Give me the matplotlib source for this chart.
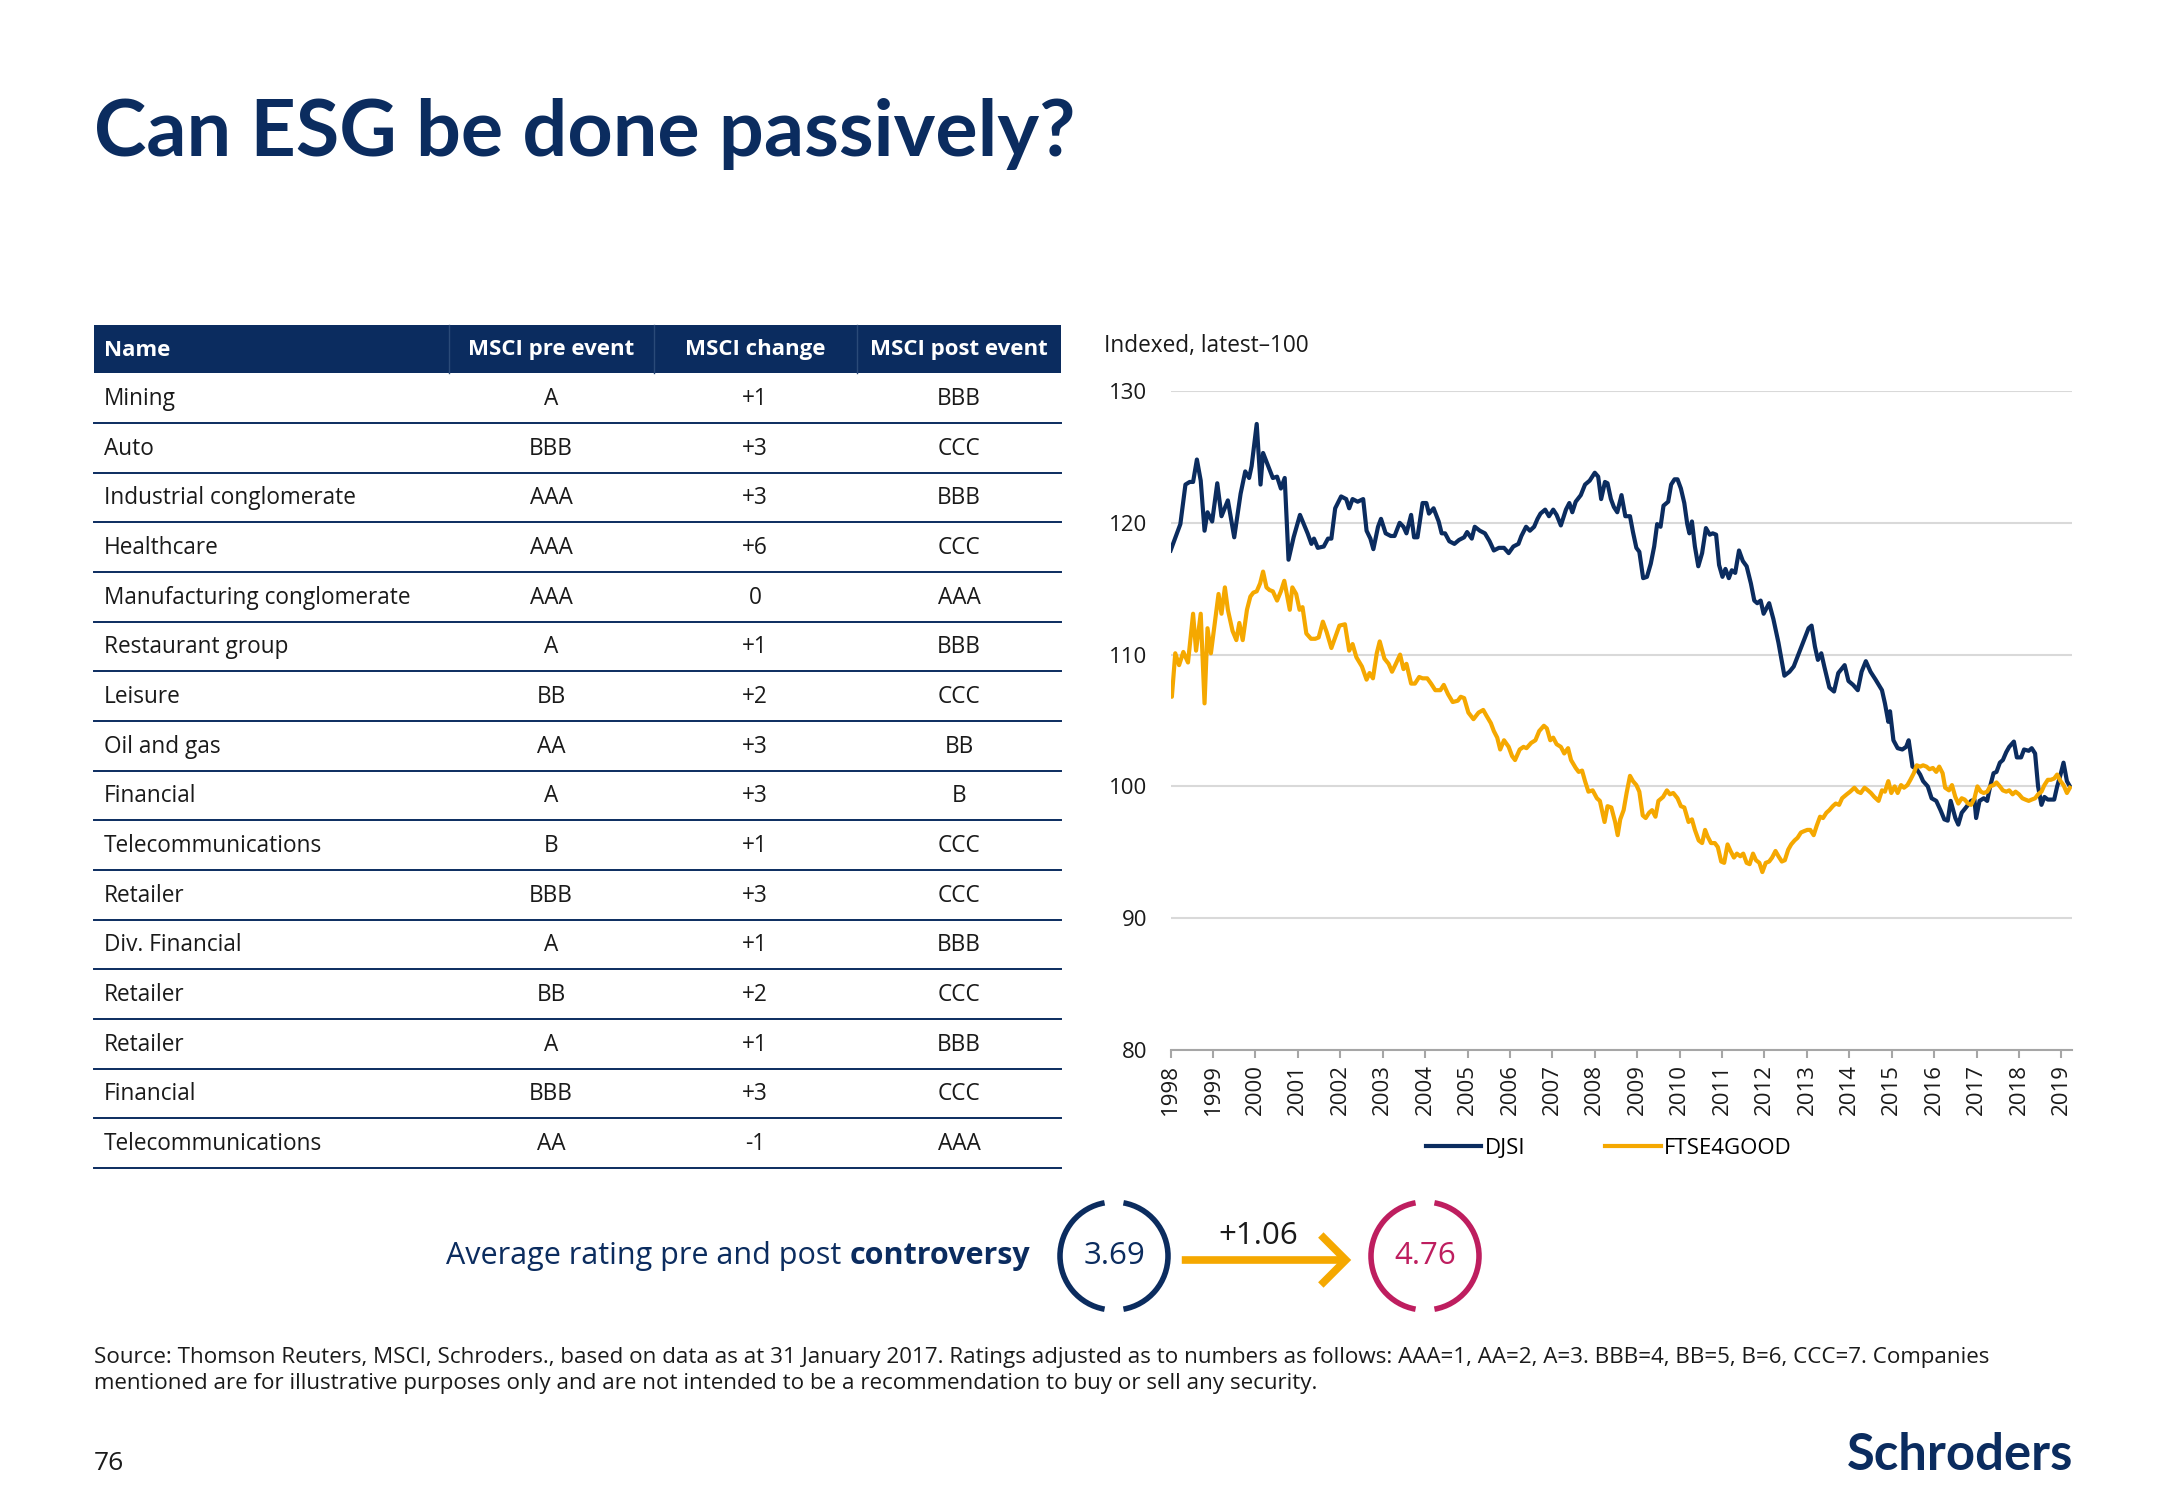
import matplotlib
matplotlib.use('Agg')
import matplotlib.pyplot as plt
from matplotlib.patches import Rectangle, Arc, FancyArrowPatch
from matplotlib.lines import Line2D

# Table data
names = ['Mining', 'Auto', 'Industrial conglomerate', 'Healthcare', 'Manufacturing conglomerate',
         'Restaurant group', 'Leisure', 'Oil and gas', 'Financial', 'Telecommunications',
         'Retailer', 'Div. Financial', 'Retailer', 'Retailer', 'Financial', 'Telecommunications']
pre_event = ['A', 'BBB', 'AAA', 'AAA', 'AAA', 'A', 'BB', 'AA', 'A', 'B', 'BBB', 'A', 'BB', 'A', 'BBB', 'AA']
change = ['+1', '+3', '+3', '+6', '0', '+1', '+2', '+3', '+3', '+1', '+3', '+1', '+2', '+1', '+3', '-1']
post_event = ['BBB', 'CCC', 'BBB', 'CCC', 'AAA', 'BBB', 'CCC', 'BB', 'B', 'CCC', 'CCC', 'BBB', 'CCC', 'BBB', 'CCC', 'AAA']
header = ['Name', 'MSCI pre event', 'MSCI change', 'MSCI post event']

avg_pre = '3.69'
avg_post = '4.76'
avg_diff = '+1.06'

# Index series (decimal year, index value)
djsi_t = [1998.00, 1998.15, 1998.23, 1998.35, 1998.45, 1998.53, 1998.62, 1998.71, 1998.80, 1998.87,
          1998.98, 1999.10, 1999.20, 1999.35, 1999.50, 1999.65, 1999.76, 1999.85, 1999.91, 2000.03,
          2000.12, 2000.18, 2000.30, 2000.41, 2000.51, 2000.60, 2000.69, 2000.78, 2000.90, 2001.05,
          2001.23, 2001.32, 2001.38, 2001.47, 2001.61, 2001.71, 2001.79, 2001.88, 2002.02, 2002.14,
          2002.21, 2002.29, 2002.41, 2002.54, 2002.62, 2002.71, 2002.78, 2002.89, 2002.96, 2003.07,
          2003.19, 2003.28, 2003.40, 2003.49, 2003.56, 2003.67, 2003.74, 2003.82, 2003.94, 2004.03,
          2004.09, 2004.20, 2004.32, 2004.39, 2004.47, 2004.57, 2004.69, 2004.80, 2004.92, 2004.99,
          2005.10, 2005.17, 2005.29, 2005.41, 2005.52, 2005.62, 2005.74, 2005.86, 2005.97, 2006.08,
          2006.20, 2006.27, 2006.38, 2006.47, 2006.57, 2006.65, 2006.72, 2006.83, 2006.92, 2007.02,
          2007.10, 2007.20, 2007.32, 2007.40, 2007.47, 2007.55, 2007.67, 2007.77, 2007.88, 2008.00,
          2008.08, 2008.15, 2008.24, 2008.30, 2008.38, 2008.45, 2008.53, 2008.63, 2008.72, 2008.83,
          2008.90, 2008.98, 2009.05, 2009.14, 2009.23, 2009.32, 2009.40, 2009.47, 2009.55, 2009.62,
          2009.73, 2009.80, 2009.88, 2009.95, 2010.03, 2010.11, 2010.18, 2010.23, 2010.29, 2010.36,
          2010.44, 2010.53, 2010.62, 2010.71, 2010.78, 2010.86, 2010.93, 2011.01, 2011.08, 2011.16,
          2011.23, 2011.31, 2011.40, 2011.49, 2011.58, 2011.68, 2011.76, 2011.83, 2011.91, 2011.98,
          2012.11, 2012.21, 2012.33, 2012.47, 2012.59, 2012.69, 2012.81, 2012.93, 2013.04, 2013.11,
          2013.19, 2013.26, 2013.34, 2013.41, 2013.53, 2013.64, 2013.74, 2013.89, 2013.98, 2014.09,
          2014.20, 2014.29, 2014.39, 2014.50, 2014.62, 2014.77, 2014.84, 2014.92, 2014.96, 2015.04,
          2015.14, 2015.25, 2015.34, 2015.40, 2015.49, 2015.59, 2015.67, 2015.74, 2015.85, 2015.94,
          2016.05, 2016.15, 2016.24, 2016.32, 2016.39, 2016.50, 2016.57, 2016.65, 2016.75, 2016.87,
          2016.95, 2016.99, 2017.07, 2017.17, 2017.25, 2017.32, 2017.40, 2017.47, 2017.55, 2017.62,
          2017.70, 2017.77, 2017.88, 2017.95, 2018.05, 2018.12, 2018.23, 2018.30, 2018.38, 2018.45,
          2018.53, 2018.60, 2018.68, 2018.75, 2018.83, 2018.90, 2018.98, 2019.05, 2019.13, 2019.20]
djsi_v = [117.9, 119.2, 119.9, 122.9, 123.1, 123.1, 124.8, 123.2, 119.4, 120.8,
          120.1, 123.0, 120.5, 121.7, 118.9, 122.2, 123.9, 123.4, 124.3, 127.5,
          122.9, 125.3, 124.3, 123.4, 123.5, 122.6, 123.4, 117.2, 118.9, 120.6,
          119.2, 118.4, 118.8, 118.1, 118.2, 118.8, 118.8, 121.1, 122.0, 121.8,
          121.1, 121.8, 121.6, 121.8, 119.4, 118.8, 118.0, 119.7, 120.3, 119.2,
          119.0, 119.0, 120.0, 119.7, 119.2, 120.6, 118.9, 118.9, 121.5, 121.5,
          120.7, 121.1, 120.1, 119.2, 119.2, 118.6, 118.4, 118.7, 118.9, 119.3,
          118.8, 119.7, 119.4, 119.2, 118.6, 117.9, 118.1, 118.1, 117.7, 118.2,
          118.4, 119.0, 119.7, 119.4, 119.7, 120.3, 120.7, 121.0, 120.5, 121.0,
          120.6, 119.8, 121.0, 121.5, 120.8, 121.6, 122.1, 122.9, 123.2, 123.8,
          123.5, 121.8, 123.1, 123.0, 121.8, 121.2, 120.8, 122.1, 120.5, 120.5,
          119.3, 118.1, 117.8, 115.8, 115.9, 116.9, 118.2, 119.9, 119.7, 121.3,
          121.6, 122.9, 123.3, 123.3, 122.6, 121.5, 119.9, 119.2, 120.1, 118.2,
          116.7, 117.7, 119.6, 119.1, 119.2, 119.1, 116.8, 115.9, 116.5, 115.8,
          116.4, 116.2, 117.9, 117.1, 116.7, 115.4, 114.1, 113.9, 114.1, 113.1,
          113.9, 112.7, 110.9, 108.4, 108.7, 109.1, 110.1, 111.1, 112.0, 112.2,
          110.6, 109.6, 110.1, 109.1, 107.5, 107.2, 108.6, 109.2, 108.0, 107.7,
          107.3, 108.7, 109.5, 108.7, 108.1, 107.3, 106.3, 104.9, 105.7, 103.5,
          102.9, 102.8, 103.0, 103.5, 101.5, 101.3, 100.9, 100.4, 100.0, 99.1,
          98.9, 98.2, 97.5, 97.4, 98.9, 97.6, 97.1, 98.0, 98.4, 98.9,
          99.0, 97.6, 98.9, 99.1, 98.9, 100.0, 101.0, 101.1, 101.8, 102.0,
          102.6, 103.0, 103.4, 102.2, 102.2, 102.8, 102.7, 102.9, 102.5, 100.0,
          98.6, 99.2, 99.0, 99.0, 99.0, 100.0, 100.9, 101.8, 100.4, 100.0]

ftse_t = [1998.00, 1998.03, 1998.11, 1998.20, 1998.30, 1998.41, 1998.53, 1998.60, 1998.71, 1998.80,
          1998.87, 1998.95, 1999.05, 1999.13, 1999.20, 1999.28, 1999.35, 1999.46, 1999.55, 1999.62,
          1999.70, 1999.80, 1999.88, 1999.95, 2000.03, 2000.11, 2000.18, 2000.26, 2000.33, 2000.41,
          2000.51, 2000.60, 2000.68, 2000.75, 2000.81, 2000.87, 2000.96, 2001.04, 2001.11, 2001.20,
          2001.31, 2001.41, 2001.49, 2001.59, 2001.68, 2001.79, 2001.88, 2001.98, 2002.11, 2002.21,
          2002.29, 2002.38, 2002.51, 2002.62, 2002.69, 2002.77, 2002.86, 2002.93, 2003.04, 2003.14,
          2003.22, 2003.31, 2003.41, 2003.49, 2003.56, 2003.67, 2003.76, 2003.86, 2003.94, 2004.05,
          2004.14, 2004.24, 2004.36, 2004.44, 2004.54, 2004.65, 2004.77, 2004.84, 2004.92, 2005.02,
          2005.14, 2005.26, 2005.37, 2005.44, 2005.55, 2005.62, 2005.70, 2005.77, 2005.86, 2005.97,
          2006.05, 2006.12, 2006.23, 2006.32, 2006.39, 2006.50, 2006.60, 2006.69, 2006.80, 2006.87,
          2006.95, 2007.02, 2007.10, 2007.20, 2007.28, 2007.37, 2007.44, 2007.55, 2007.62, 2007.70,
          2007.77, 2007.85, 2007.95, 2008.05, 2008.12, 2008.23, 2008.30, 2008.39, 2008.48, 2008.54,
          2008.60, 2008.68, 2008.75, 2008.83, 2008.90, 2008.98, 2009.05, 2009.13, 2009.20, 2009.28,
          2009.35, 2009.43, 2009.50, 2009.61, 2009.70, 2009.77, 2009.85, 2009.95, 2010.03, 2010.11,
          2010.21, 2010.29, 2010.36, 2010.45, 2010.53, 2010.60, 2010.66, 2010.74, 2010.83, 2010.90,
          2010.98, 2011.05, 2011.13, 2011.20, 2011.28, 2011.35, 2011.43, 2011.50, 2011.58, 2011.65,
          2011.73, 2011.80, 2011.88, 2011.95, 2012.03, 2012.11, 2012.18, 2012.26, 2012.33, 2012.41,
          2012.48, 2012.56, 2012.63, 2012.71, 2012.78, 2012.86, 2012.93, 2013.01, 2013.08, 2013.16,
          2013.23, 2013.31, 2013.38, 2013.46, 2013.53, 2013.61, 2013.68, 2013.76, 2013.83, 2013.94,
          2014.02, 2014.12, 2014.20, 2014.27, 2014.36, 2014.44, 2014.51, 2014.59, 2014.69, 2014.77,
          2014.84, 2014.92, 2014.99, 2015.07, 2015.14, 2015.22, 2015.29, 2015.37, 2015.44, 2015.52,
          2015.59, 2015.67, 2015.74, 2015.82, 2015.89, 2015.97, 2016.05, 2016.12, 2016.20, 2016.26,
          2016.35, 2016.42, 2016.50, 2016.57, 2016.65, 2016.72, 2016.80, 2016.87, 2016.95, 2017.02,
          2017.10, 2017.17, 2017.25, 2017.32, 2017.40, 2017.47, 2017.55, 2017.62, 2017.70, 2017.77,
          2017.85, 2017.92, 2018.00, 2018.08, 2018.15, 2018.23, 2018.30, 2018.38, 2018.45, 2018.53,
          2018.60, 2018.68, 2018.75, 2018.83, 2018.90, 2018.98, 2019.05, 2019.13, 2019.20]
ftse_v = [107.8, 106.8, 110.1, 109.2, 110.2, 109.4, 113.1, 110.3, 113.1, 106.3,
          112.0, 110.1, 112.6, 114.6, 113.1, 115.1, 113.4, 111.8, 111.1, 112.4,
          111.1, 113.4, 114.4, 114.7, 114.8, 115.4, 116.3, 115.1, 114.9, 114.8,
          114.1, 114.8, 115.6, 114.4, 113.4, 115.1, 114.6, 113.4, 113.6, 111.6,
          111.2, 111.2, 111.3, 112.5, 111.7, 110.5, 111.3, 112.2, 112.3, 110.3,
          110.8, 109.8, 109.1, 108.1, 108.6, 108.2, 110.1, 111.0, 109.7, 109.3,
          108.7, 109.3, 110.0, 108.9, 109.3, 107.8, 107.8, 108.3, 108.2, 108.2,
          107.8, 107.3, 107.3, 107.7, 107.0, 106.4, 106.5, 106.8, 106.7, 105.6,
          105.1, 105.6, 105.8, 105.4, 104.8, 104.2, 103.7, 102.8, 103.5, 103.0,
          102.3, 102.0, 102.8, 103.0, 102.9, 103.3, 103.5, 104.2, 104.6, 104.4,
          103.5, 103.7, 103.2, 103.0, 102.5, 102.9, 102.0, 101.4, 101.1, 101.2,
          100.4, 99.6, 99.7, 99.1, 98.9, 97.3, 98.5, 98.4, 97.3, 96.3,
          97.5, 98.2, 99.5, 100.8, 100.4, 100.1, 99.6, 97.8, 97.6, 98.0,
          98.2, 97.7, 98.9, 99.2, 99.7, 99.4, 99.5, 99.1, 98.5, 98.4,
          97.3, 97.5, 96.7, 95.9, 95.7, 96.7, 96.2, 95.7, 95.7, 95.4,
          94.3, 94.2, 95.6, 95.1, 94.6, 94.9, 94.7, 94.9, 94.2, 94.1,
          94.9, 94.4, 94.2, 93.5, 94.2, 94.3, 94.6, 95.1, 94.7, 94.3,
          94.4, 95.2, 95.6, 95.9, 96.1, 96.5, 96.6, 96.7, 96.7, 96.3,
          97.0, 97.7, 97.6, 98.0, 98.2, 98.5, 98.7, 98.6, 99.1, 99.4,
          99.6, 99.9, 99.6, 99.5, 99.9, 99.7, 99.5, 99.2, 98.9, 99.7,
          99.6, 100.4, 99.5, 100.0, 99.5, 100.1, 99.9, 100.1, 100.5, 101.0,
          101.6, 101.5, 101.6, 101.5, 101.3, 101.4, 101.1, 101.5, 101.0, 99.9,
          99.7, 100.1, 99.2, 98.7, 99.1, 99.0, 98.7, 98.6, 99.1, 100.0,
          99.6, 99.5, 99.6, 100.0, 100.1, 100.3, 100.0, 99.7, 99.6, 99.7,
          99.4, 99.6, 99.4, 99.1, 99.0, 98.9, 99.0, 99.1, 99.4, 99.6,
          100.1, 100.5, 100.5, 100.6, 100.9, 100.4, 100.1, 99.5, 99.9]

years = list(range(1998, 2020))

NAVY = '#0b2c5f'
ORANGE = '#f5a800'
MAGENTA = '#be1e5f'
INK = '#1a1a1a'
BODY = 'Open Sans'

W, H = 2167, 1500
fig = plt.figure(figsize=(21.67, 15), dpi=100)


def fx(x):
    return x / W


def fy(y):
    return 1 - y / H


# Title
fig.text(fx(94), fy(156), 'Can ESG be done passively?', fontsize=57, family='Lato',
         weight='bold', color=NAVY, va='baseline', ha='left')

# ---- Table ----
tab_l, tab_r = 94, 1061
head_top, head_bot = 325, 373
col_x = [104, 551, 755, 959]
col_sep = [449, 654, 857]
fig.add_artist(Rectangle((fx(tab_l), fy(head_bot)), fx(tab_r - tab_l), (head_bot - head_top) / H,
                         facecolor=NAVY, edgecolor='none', transform=fig.transFigure))
for xs in col_sep:
    fig.add_artist(Line2D([fx(xs), fx(xs)], [fy(head_top), fy(head_bot)], color='#2a4a78',
                          lw=1, transform=fig.transFigure))
for i, h in enumerate(header):
    fig.text(fx(col_x[i]), fy(350), h, fontsize=16, family=BODY, weight='bold', color='white',
             ha='left' if i == 0 else 'center', va='center')

row_h = 49.66
for r in range(len(names)):
    yc = 399 + r * row_h
    fig.text(fx(col_x[0]), fy(yc), names[r], fontsize=16.3, family=BODY, color=INK,
             ha='left', va='center')
    for i, val in enumerate([pre_event[r], change[r], post_event[r]]):
        fig.text(fx(col_x[i + 1]), fy(yc), val, fontsize=16.3, family=BODY, color=INK,
                 ha='center', va='center')
    yl = 423 + r * row_h
    fig.add_artist(Line2D([fx(tab_l), fx(tab_r)], [fy(yl), fy(yl)], color=NAVY, lw=1.4,
                          transform=fig.transFigure))

# ---- Line chart ----
ax = fig.add_axes([fx(1170.6), fy(1050), fx(2072 - 1170.6), (1050 - 391) / H])
ax.plot(djsi_t, djsi_v, color=NAVY, lw=3.0, label='DJSI')
ax.plot(ftse_t, ftse_v, color=ORANGE, lw=3.0, label='FTSE4GOOD')
ax.set_xlim(1998, 2019.25)
ax.set_ylim(80, 130)
ax.set_yticks([80, 90, 100, 110, 120, 130])
ax.set_xticks(years)
ax.set_xticklabels([str(y) for y in years], rotation=90, family=BODY, fontsize=16)
ax.set_yticklabels([str(v) for v in [80, 90, 100, 110, 120, 130]], family=BODY, fontsize=16)
ax.grid(axis='y', color='#d9d9d9', lw=1.5)
ax.set_axisbelow(True)
for s in ['top', 'right', 'left']:
    ax.spines[s].set_visible(False)
ax.spines['bottom'].set_color('#a6a6a6')
ax.spines['bottom'].set_linewidth(1.5)
ax.tick_params(axis='x', color='#a6a6a6', length=6, width=1.5, pad=4, labelcolor=INK)
ax.tick_params(axis='y', length=0, pad=17, labelcolor=INK)
fig.text(fx(1104), fy(346), 'Indexed, latest\u2013100', fontsize=16.3, family=BODY,
         color=INK, ha='left', va='center')
ax.legend(loc='center', bbox_to_anchor=(fx(1609), fy(1148)), bbox_transform=fig.transFigure,
          ncol=2, frameon=False, handlelength=2.5, handletextpad=0.15, columnspacing=3.6,
          prop={'family': BODY, 'size': 16})

# ---- Average rating row ----
yrow = 1256
bold_t = fig.text(fx(1030), fy(yrow), 'controversy', fontsize=22, family=BODY, weight='bold',
                  color=NAVY, ha='right', va='center')
fig.canvas.draw()
bw = bold_t.get_window_extent().width
fig.text(fx(1030 - bw - 8), fy(yrow), 'Average rating pre and post', fontsize=22, family=BODY,
         color=NAVY, ha='right', va='center')


def ring(cx, cy, r, color):
    for a0, a1 in [(97, 263), (277, 443)]:
        fig.add_artist(Arc((fx(cx), fy(cy)), 2 * r / W, 2 * r / H, theta1=a0, theta2=a1,
                           color=color, lw=4, transform=fig.transFigure))


ring(1114, yrow, 54, NAVY)
fig.text(fx(1114), fy(yrow), avg_pre, fontsize=22.5, family=BODY, color=NAVY, ha='center', va='center')
ring(1425, yrow, 54, MAGENTA)
fig.text(fx(1425), fy(yrow), avg_post, fontsize=22.5, family=BODY, color=MAGENTA, ha='center', va='center')
fig.add_artist(FancyArrowPatch((fx(1179), fy(1260)), (fx(1354), fy(1260)), transform=fig.transFigure,
                               arrowstyle='->,head_length=0.9,head_width=0.9', mutation_scale=20,
                               color=ORANGE, lw=5.5, joinstyle='miter', capstyle='butt'))
fig.text(fx(1258), fy(1236), avg_diff, fontsize=22.5, family=BODY, color=INK, ha='center', va='center')

# ---- Footnote, page number, logo ----
fig.text(fx(94), fy(1357), 'Source: Thomson Reuters, MSCI, Schroders., based on data as at 31 January 2017. '
         'Ratings adjusted as to numbers as follows: AAA=1, AA=2, A=3. BBB=4, BB=5, B=6, CCC=7. Companies',
         fontsize=16.1, family=BODY, color=INK, ha='left', va='center')
fig.text(fx(94), fy(1384), 'mentioned are for illustrative purposes only and are not intended to be a '
         'recommendation to buy or sell any security.',
         fontsize=16.1, family=BODY, color=INK, ha='left', va='center')
fig.text(fx(94), fy(1463), '76', fontsize=19, family=BODY, color=INK, ha='left', va='center')
fig.text(fx(2073), fy(1456), 'Schroders', fontsize=36.5, family='Lato', weight='bold', color=NAVY,
         ha='right', va='center')

fig.savefig('out.png', dpi=100, facecolor='white')
